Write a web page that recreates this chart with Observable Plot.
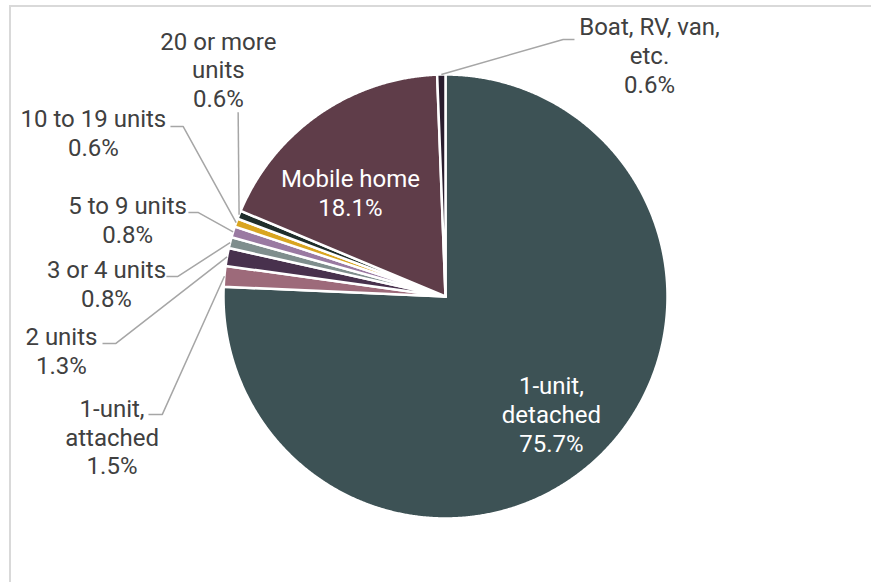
<!DOCTYPE html>
<html>
<head>
<meta charset="utf-8">
<script src="https://cdn.jsdelivr.net/npm/d3@7"></script>
<script src="https://cdn.jsdelivr.net/npm/@observablehq/plot@0.6"></script>
<style>
  html, body { margin: 0; padding: 0; background: #fff; overflow: hidden; }
  #wrap { position: relative; width: 871px; height: 582px; }
  #frame { position: absolute; left: 9px; top: 5px; width: 900px; height: 700px;
           border: 2px solid #d9d9d9; box-sizing: border-box; pointer-events: none; }
  #chart { position: absolute; left: 0; top: 0; }
</style>
</head>
<body>
<div id="wrap"><div id="frame"></div><div id="chart"></div></div>
<script>
// ---- data ----
const categories = ["1-unit, detached", "1-unit, attached", "2 units", "3 or 4 units",
  "5 to 9 units", "10 to 19 units", "20 or more units", "Mobile home", "Boat, RV, van, etc."];
const shares = [75.7, 1.5, 1.3, 0.8, 0.8, 0.6, 0.6, 18.1, 0.6];
const labelNames = ["1-unit,\ndetached", "1-unit,\nattached", "2 units", "3 or 4 units",
  "5 to 9 units", "10 to 19 units", "20 or more\nunits", "Mobile home", "Boat, RV, van,\netc."];
const sliceColors = ["#3d5255", "#9d6a7a", "#48314d", "#7f8e8d", "#9a7aa2",
  "#d9a520", "#1f2e2b", "#5f3d49", "#2a1d2e"];

// ---- layout (label placement, in pie-radius units) ----
const labelLayout = [
  {inside: true, at: [0.477, -0.529]},
  {at: [-1.502, -0.630], leader: [[-1.338, -0.532], [-1.276, -0.532]]},
  {at: [-1.730, -0.243], leader: [[-1.545, -0.212], [-1.486, -0.212]]},
  {at: [-1.527, 0.059], leader: [[-1.257, 0.090], [-1.207, 0.090]]},
  {at: [-1.432, 0.349], leader: [[-1.158, 0.378], [-1.113, 0.378]]},
  {at: [-1.586, 0.740], leader: [[-1.239, 0.766], [-1.182, 0.766]]},
  {at: [-1.023, 1.024], leader: [[-0.934, 0.830]]},
  {inside: true, at: [-0.428, 0.468]},
  {at: [0.919, 1.088], leader: [[0.581, 1.158], [0.530, 1.158]]}
];

// ---- geometry from data ----
const arcs = d3.pie().sort(null).value(d => d)(shares);
const pt = (a, r) => ({x: r * Math.sin(a), y: r * Math.cos(a)});

const slicePts = [];
arcs.forEach((a, i) => {
  const cat = categories[i];
  slicePts.push({cat, ...pt(0, 0)});
  const n = Math.max(2, Math.ceil((a.endAngle - a.startAngle) / 0.005));
  for (let k = 0; k <= n; k++) {
    const t = a.startAngle + (a.endAngle - a.startAngle) * k / n;
    slicePts.push({cat, ...pt(t, 1)});
  }
  slicePts.push({cat, ...pt(0, 0)});
});

const labels = categories.map((cat, i) => ({
  cat,
  text: labelNames[i] + "\n" + shares[i].toFixed(1) + "%",
  x: labelLayout[i].at[0],
  y: labelLayout[i].at[1],
  inside: !!labelLayout[i].inside
}));

const leaderPts = [];
arcs.forEach((a, i) => {
  const L = labelLayout[i];
  if (!L.leader) return;
  const cat = categories[i];
  L.leader.forEach(([x, y]) => leaderPts.push({cat, x, y}));
  leaderPts.push({cat, ...pt((a.startAngle + a.endAngle) / 2, 1.0)});
});

const chart = Plot.plot({
  width: 871,
  height: 582,
  margin: 0,
  style: {fontFamily: "Roboto, 'Noto Sans', sans-serif", background: "transparent"},
  x: {domain: [-1, 1], range: [223, 667], axis: null},
  y: {domain: [-1, 1], range: [518, 74], axis: null},
  color: {domain: categories, range: sliceColors},
  marks: [
    Plot.line(slicePts, {x: "x", y: "y", z: "cat", fill: "cat", stroke: "white",
      strokeWidth: 2.5, strokeLinejoin: "miter", strokeMiterlimit: 4, curve: "linear"}),
    Plot.line(leaderPts, {x: "x", y: "y", z: "cat", stroke: "#a6a6a6", strokeWidth: 1.5,
      strokeLinejoin: "miter", strokeLinecap: "butt"}),
    Plot.text(labels.filter(d => !d.inside), {x: "x", y: "y", text: "text",
      fill: "#404040", fontSize: 24, lineHeight: 1.2}),
    Plot.text(labels.filter(d => d.inside), {x: "x", y: "y", text: "text",
      fill: "white", fontSize: 24, lineHeight: 1.2})
  ]
});
document.getElementById("chart").appendChild(chart);
</script>
</body>
</html>
